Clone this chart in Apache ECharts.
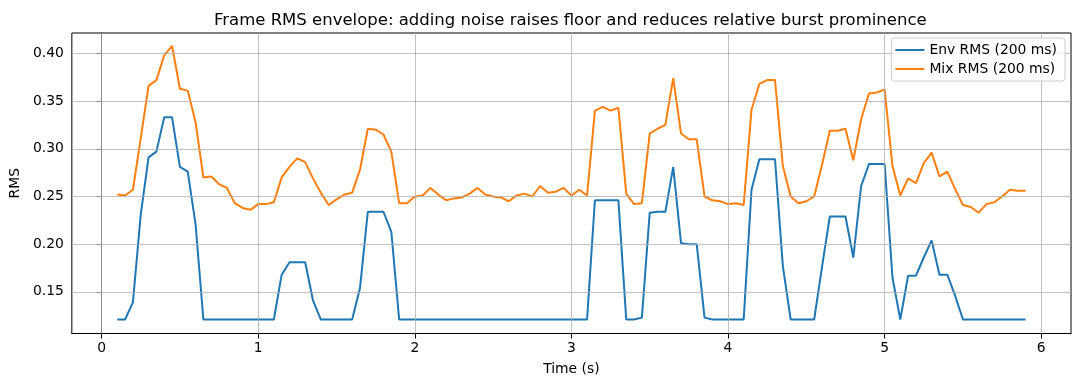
<!DOCTYPE html>
<html>
<head>
<meta charset="utf-8">
<script src="https://cdn.jsdelivr.net/npm/echarts@6/dist/echarts.min.js"></script>
<style>html,body{margin:0;padding:0;background:#fff}#c{width:1080px;height:387px}</style>
</head>
<body>
<div id="c"></div>
<script>
const times = [0.10,0.15,0.20,0.25,0.30,0.35,0.40,0.45,0.50,0.55,0.60,0.65,0.70,0.75,0.80,0.85,0.90,0.95,1.00,1.05,1.10,1.15,1.20,1.25,1.30,1.35,1.40,1.45,1.50,1.55,1.60,1.65,1.70,1.75,1.80,1.85,1.90,1.95,2.00,2.05,2.10,2.15,2.20,2.25,2.30,2.35,2.40,2.45,2.50,2.55,2.60,2.65,2.70,2.75,2.80,2.85,2.90,2.95,3.00,3.05,3.10,3.15,3.20,3.25,3.30,3.35,3.40,3.45,3.50,3.55,3.60,3.65,3.70,3.75,3.80,3.85,3.90,3.95,4.00,4.05,4.10,4.15,4.20,4.25,4.30,4.35,4.40,4.45,4.50,4.55,4.60,4.65,4.70,4.75,4.80,4.85,4.90,4.95,5.00,5.05,5.10,5.15,5.20,5.25,5.30,5.35,5.40,5.45,5.50,5.55,5.60,5.65,5.70,5.75,5.80,5.85,5.90];

const envRms = [0.121,0.121,0.139,0.231,0.291,0.297,0.333,0.333,0.281,0.276,0.221,0.121,
0.121,0.121,0.121,0.121,0.121,0.121,0.121,0.121,0.121,
0.168,0.181,0.181,0.181,0.141,0.121,0.121,0.121,0.121,0.121,0.154,0.234,0.234,0.234,0.213,
0.121,0.121,0.121,0.121,0.121,0.121,0.121,0.121,0.121,0.121,0.121,0.121,0.121,0.121,0.121,0.121,0.121,0.121,0.121,0.121,0.121,0.121,0.121,0.121,0.121,
0.246,0.246,0.246,0.246,0.121,0.121,0.123,0.233,0.234,0.234,0.281,0.201,0.200,0.200,0.123,0.121,0.121,0.121,0.121,0.121,
0.257,0.289,0.289,0.289,0.177,0.121,0.121,0.121,0.121,0.176,0.229,0.229,0.229,0.186,0.261,0.284,0.284,0.284,0.165,0.121,
0.167,0.167,0.186,0.204,0.168,0.168,0.146,0.121,
0.121,0.121,0.121,0.121,0.121,0.121,0.121,0.121];

const mixRms = [0.252,0.251,0.257,0.311,0.366,0.372,0.398,0.408,0.363,0.361,0.328,0.270,
0.271,0.263,0.259,0.243,0.238,0.236,0.242,0.242,0.244,
0.270,0.281,0.290,0.286,0.269,0.254,0.241,0.247,0.252,0.254,0.278,0.321,0.320,0.315,0.297,
0.243,0.243,0.250,0.251,0.259,0.252,0.246,0.248,0.249,0.253,0.259,0.252,0.250,0.249,0.245,0.251,0.253,0.250,0.261,0.254,0.255,0.259,0.251,0.257,0.251,
0.340,0.344,0.340,0.343,0.253,0.242,0.243,0.316,0.321,0.325,0.374,0.316,0.310,0.310,0.250,0.246,0.245,0.242,0.243,0.241,
0.341,0.368,0.372,0.372,0.282,0.250,0.243,0.245,0.250,0.283,0.319,0.319,0.321,0.288,0.331,0.358,0.359,0.362,0.282,0.251,
0.269,0.264,0.285,0.296,0.271,0.276,0.258,0.241,
0.239,0.233,0.242,0.244,0.250,0.257,0.256,0.256];

const xTicks = [0,1,2,3,4,5,6];
const yTicks = [0.15,0.20,0.25,0.30,0.35,0.40];
const seriesNames = ['Env RMS (200 ms)','Mix RMS (200 ms)'];

const font = 'DejaVu Sans';
const chart = echarts.init(document.getElementById('c'), null, {renderer:'canvas'});
const pairs = arr => times.map((t,i)=>[t, arr[i]]);
const gridStyle = {color:'#b0b0b0',width:0.8,type:'solid'};

chart.setOption({
  animation:false,
  backgroundColor:'#fff',
  title:{text:'Frame RMS envelope: adding noise raises floor and reduces relative burst prominence',
    left:209, top:7, textStyle:{fontFamily:font,fontSize:16.5,fontWeight:'normal',color:'#000'}},
  grid:{left:69,right:9,top:33,bottom:53.5,show:true,borderColor:'#000',borderWidth:1,backgroundColor:'transparent',z:3},
  legend:{orient:'vertical',right:15,top:38,icon:'rect',itemWidth:29,itemHeight:2,itemGap:5,
    padding:[5,8,5,4],backgroundColor:'rgba(255,255,255,0.8)',borderColor:'#cccccc',borderWidth:1,borderRadius:3,
    textStyle:{fontFamily:font,fontSize:13.9,color:'#000'},data:seriesNames,z:10},
  xAxis:{type:'value',min:-0.19,max:6.19,
    name:'Time (s)',nameLocation:'middle',nameGap:29,nameTextStyle:{fontFamily:font,fontSize:13.9,color:'#000'},
    axisLine:{show:true,lineStyle:{color:'#000',width:1}},
    axisTick:{show:true,length:5,lineStyle:{color:'#000'},customValues:xTicks},
    axisLabel:{fontFamily:font,fontSize:13.9,color:'#000',margin:8,customValues:xTicks,formatter:v=>String(v)},
    splitLine:{show:false}},
  yAxis:{type:'value',min:0.10634,max:0.4214,
    name:'RMS',nameLocation:'middle',nameGap:47,nameTextStyle:{fontFamily:font,fontSize:13.9,color:'#000'},
    axisLine:{show:true,lineStyle:{color:'#000',width:1}},
    axisTick:{show:true,length:5,lineStyle:{color:'#000'},customValues:yTicks},
    axisLabel:{fontFamily:font,fontSize:13.9,color:'#000',margin:8,customValues:yTicks,formatter:v=>v.toFixed(2)},
    splitLine:{show:false}},
  series:[
    {name:'grid',type:'line',data:[],z:1,silent:true,
      markLine:{silent:true,symbol:['none','none'],label:{show:false},lineStyle:gridStyle,emphasis:{disabled:true},animation:false,
        data:xTicks.map(v=>({xAxis:v})).concat(yTicks.map(v=>({yAxis:v})))}},
    {name:seriesNames[0],type:'line',data:pairs(envRms),symbol:'none',z:2,lineStyle:{color:'#1f77b4',width:2},itemStyle:{color:'#1f77b4'}},
    {name:seriesNames[1],type:'line',data:pairs(mixRms),symbol:'none',z:2,lineStyle:{color:'#ff7f0e',width:2},itemStyle:{color:'#ff7f0e'}}
  ]
});
</script>
</body>
</html>
